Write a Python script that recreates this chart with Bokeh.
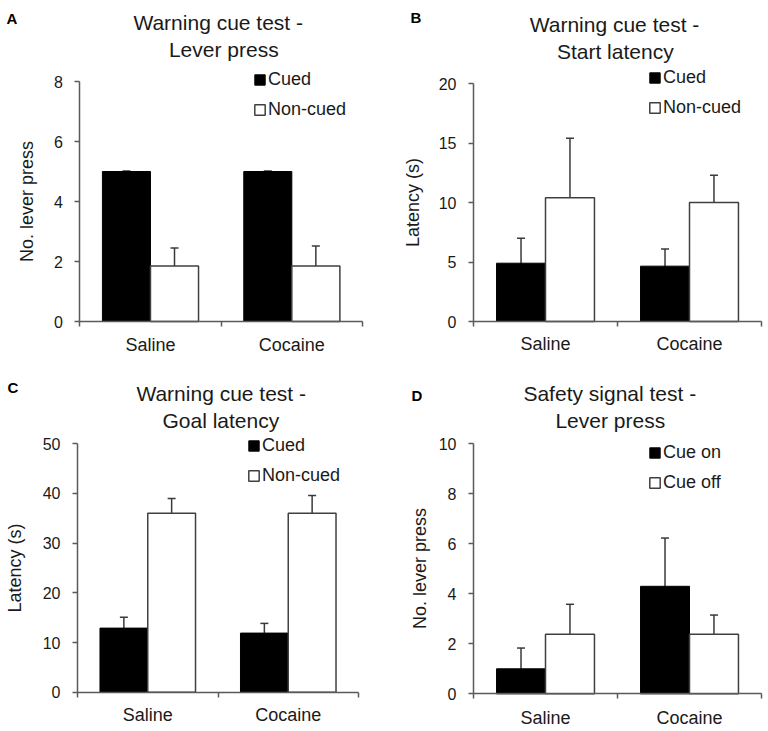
from bokeh.plotting import figure
from bokeh.models import (Range1d, FixedTicker, Whisker, TeeHead, ColumnDataSource,
                          Legend, LegendItem, Label)
from bokeh.layouts import column, row
from bokeh.embed import file_html
from bokeh.resources import INLINE

groups = ["Saline", "Cocaine"]

# Panel A - Warning cue test, lever press
a_cued = [5.0, 5.0]
a_cued_err = [0.02, 0.02]
a_noncued = [1.85, 1.85]
a_noncued_err = [0.6, 0.67]
a_yticks = [0, 2, 4, 6, 8]

# Panel B - Warning cue test, start latency
b_cued = [4.9, 4.65]
b_cued_err = [2.1, 1.45]
b_noncued = [10.4, 10.0]
b_noncued_err = [5.0, 2.3]
b_yticks = [0, 5, 10, 15, 20]

# Panel C - Warning cue test, goal latency
c_cued = [12.9, 11.9]
c_cued_err = [2.2, 1.95]
c_noncued = [36.0, 36.0]
c_noncued_err = [3.0, 3.6]
c_yticks = [0, 10, 20, 30, 40, 50]

# Panel D - Safety signal test, lever press
d_on = [1.0, 4.3]
d_on_err = [0.83, 1.93]
d_off = [2.38, 2.38]
d_off_err = [1.2, 0.77]
d_yticks = [0, 2, 4, 6, 8, 10]

FONT = "Liberation Sans"
TXT = "#1a1a1a"
AX = "#5a5a5a"
ERR = "#3a3a3a"
BAR_W = 0.34


def span(v0, v1, p0, p1, size):
    k = (v1 - v0) / (p1 - p0)
    return v0 - p0 * k, v0 + (size - p0) * k


def panel(letter, title1, title2, ylabel, yticks, n1, v1, e1, n2, v2, e2, g):
    W, H = g["w"], g["h"]
    ng = len(groups)
    xs, xe = span(0, ng, g["ax"], g["axr"], W)
    ys, ye = span(yticks[0], yticks[-1], H - g["y0"], H - g["y1"], H)
    p = figure(width=W, height=H, x_range=Range1d(xs, xe), y_range=Range1d(ys, ye),
               output_backend="svg", toolbar_location=None, title=None,
               min_border=0, min_border_left=0, min_border_right=0,
               min_border_top=0, min_border_bottom=0)
    p.outline_line_color = None
    p.border_fill_color = "white"
    p.xgrid.visible = False
    p.ygrid.visible = False

    xc = [i + 0.5 for i in range(ng)]
    x1 = [x - BAR_W / 2 for x in xc]
    x2 = [x + BAR_W / 2 for x in xc]
    s1 = ColumnDataSource(dict(x=x1, top=v1, upper=[a + b for a, b in zip(v1, e1)],
                               lower=[a - b for a, b in zip(v1, e1)]))
    s2 = ColumnDataSource(dict(x=x2, top=v2, upper=[a + b for a, b in zip(v2, e2)],
                               lower=[a - b for a, b in zip(v2, e2)]))
    r1 = p.vbar(x="x", top="top", bottom=0, width=BAR_W, source=s1,
                fill_color="black", line_color="black", line_width=1)
    r2 = p.vbar(x="x", top="top", bottom=0, width=BAR_W, source=s2,
                fill_color="white", line_color="#404040", line_width=1.5)
    for s in (s1, s2):
        p.add_layout(Whisker(source=s, base="x", upper="upper", lower="lower",
                             line_color=ERR, line_width=1.5,
                             upper_head=TeeHead(size=8, line_color=ERR, line_width=1.5),
                             lower_head=TeeHead(size=8, line_color=ERR, line_width=1.5)))

    xa = p.xaxis[0]
    xa.fixed_location = yticks[0]
    xa.bounds = (0, ng)
    xa.ticker = FixedTicker(ticks=xc, minor_ticks=list(range(ng + 1)))
    xa.major_label_overrides = {x: g_ for x, g_ in zip(xc, groups)}
    xa.major_tick_line_color = None
    xa.major_tick_out = 0
    xa.major_tick_in = 0
    xa.minor_tick_out = 5
    xa.minor_tick_in = 0
    xa.minor_tick_line_color = AX
    xa.minor_tick_line_width = 1.5
    xa.axis_line_color = AX
    xa.axis_line_width = 1.5
    xa.major_label_text_font = FONT
    xa.major_label_text_font_size = "18px"
    xa.major_label_text_color = TXT
    xa.major_label_standoff = g["xs"]

    ya = p.yaxis[0]
    ya.fixed_location = 0
    ya.bounds = (yticks[0], yticks[-1])
    ya.ticker = FixedTicker(ticks=yticks, minor_ticks=[])
    ya.major_tick_out = 5
    ya.major_tick_in = 0
    ya.major_tick_line_color = AX
    ya.major_tick_line_width = 1.5
    ya.minor_tick_line_color = None
    ya.axis_line_color = AX
    ya.axis_line_width = 1.5
    ya.major_label_text_font = FONT
    ya.major_label_text_font_size = "16px"
    ya.major_label_text_color = TXT
    ya.major_label_standoff = 12
    ya.axis_label = ylabel
    ya.axis_label_text_font = FONT
    ya.axis_label_text_font_size = "18px"
    ya.axis_label_text_font_style = "normal"
    ya.axis_label_text_color = TXT
    ya.axis_label_standoff = g["as"]

    legend = Legend(items=[LegendItem(label=n1, renderers=[r1]),
                           LegendItem(label=n2, renderers=[r2])],
                    location=(g["lx"], H - g["lb"]), orientation="vertical",
                    background_fill_alpha=0, border_line_color=None,
                    padding=0, margin=0, spacing=9,
                    glyph_width=13, glyph_height=13, label_height=20,
                    label_standoff=2,
                    label_text_font=FONT, label_text_font_size="18px",
                    label_text_color=TXT)
    p.add_layout(legend)

    p.add_layout(Label(x=g["let"][0], y=H - g["let"][1], x_units="screen", y_units="screen",
                       text=letter, text_font=FONT, text_font_size="15px",
                       text_font_style="bold", text_color="black",
                       text_baseline="alphabetic", text_align="left"))
    for t, xb, yb in ((title1, g["tx"][0], g["ty"][0]), (title2, g["tx"][1], g["ty"][1])):
        p.add_layout(Label(x=xb, y=H - yb, x_units="screen", y_units="screen",
                           text=t, text_font=FONT, text_font_size="21px",
                           text_color=TXT, text_baseline="alphabetic", text_align="center"))
    return p


# geometry in pixels from each figure's top-left corner
gA = dict(w=383, h=365, ax=79.3, axr=362, y0=321, y1=81, xs=8, **{"as": 14},
          lx=253, lb=120, let=(6, 18.3), tx=(217.7, 223.3), ty=(22, 49.3))
gB = dict(w=383, h=365, ax=89, axr=377, y0=321, y1=83, xs=7, **{"as": 13},
          lx=264, lb=117.7, let=(26, 16.7), tx=(230, 230.8), ty=(24.3, 50.5))
gC = dict(w=383, h=365, ax=77, axr=358, y0=326.7, y1=78.3, xs=8, **{"as": 15},
          lx=247, lb=121, let=(7, 21.7), tx=(220.7, 220.3), ty=(28.3, 55))
gD = dict(w=383, h=365, ax=89, axr=377, y0=328.3, y1=78.3, xs=9, **{"as": 6},
          lx=264, lb=128.3, let=(27, 30), tx=(225.3, 225.8), ty=(28.3, 55))

pA = panel("A", "Warning cue test -", "Lever press", "No. lever press", a_yticks,
           "Cued", a_cued, a_cued_err, "Non-cued", a_noncued, a_noncued_err, gA)
pB = panel("B", "Warning cue test -", "Start latency", "Latency (s)", b_yticks,
           "Cued", b_cued, b_cued_err, "Non-cued", b_noncued, b_noncued_err, gB)
pC = panel("C", "Warning cue test -", "Goal latency", "Latency (s)", c_yticks,
           "Cued", c_cued, c_cued_err, "Non-cued", c_noncued, c_noncued_err, gC)
pD = panel("D", "Safety signal test -", "Lever press", "No. lever press", d_yticks,
           "Cue on", d_on, d_on_err, "Cue off", d_off, d_off_err, gD)

layout = column(row(pA, pB, spacing=1), row(pC, pD, spacing=1))
open("out.html", "w").write(file_html(layout, INLINE))
